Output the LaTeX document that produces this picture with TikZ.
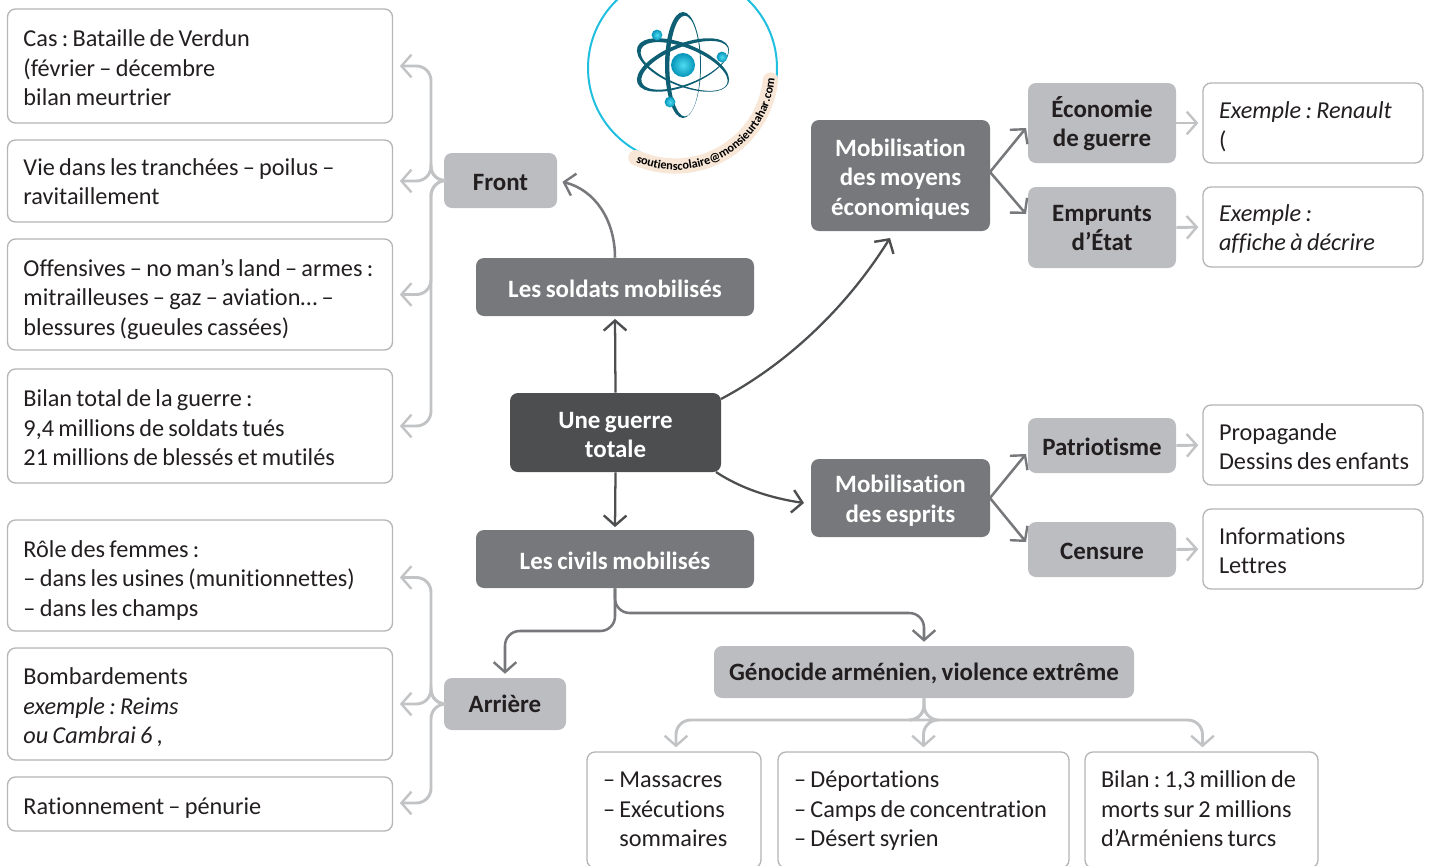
\documentclass[tikz,border=0pt]{standalone}
\usepackage{fontspec}
\setmainfont{Carlito}[RawFeature={-liga}]
\usetikzlibrary{arrows.meta,calc,decorations.text}
\definecolor{inkc}{HTML}{231F20}
\definecolor{darkc}{HTML}{4D4E50}
\definecolor{midc}{HTML}{77787B}
\definecolor{lightc}{HTML}{BCBDC0}
\definecolor{arrowl}{HTML}{C2C3C5}
\definecolor{borderc}{HTML}{B4B5B7}
\definecolor{cyanc}{HTML}{20BFE0}
\definecolor{peachc}{HTML}{F8E6D6}
\definecolor{tealc}{HTML}{0E5F73}
\definecolor{ballin}{HTML}{4FDCF2}
\definecolor{ballout}{HTML}{0594B8}
\newcommand{\topstrut}{\rule{0pt}{15.5pt}}
\newcommand{\lowstrut}{\rule[-4.5pt]{0pt}{4.5pt}}
\frenchspacing
\tikzset{
  x=0.75pt,y=-0.75pt,
  textbox/.style n args={2}{draw=borderc,line width=1pt,fill=white,rounded corners=6pt,
    text=inkc,align=left,inner xsep=12pt,inner ysep=0pt,anchor=center,
    text width=\dimexpr(#1pt-32pt)*3/4\relax,minimum height=#2*0.75pt,
    execute at begin node={\hyphenpenalty=10000\spaceskip=3.2pt\topstrut},
    font=\fontsize{18.2}{22.1}\selectfont},
  solid box/.style n args={2}{rounded corners=6pt,inner sep=0pt,align=center,anchor=center,
    text width=\dimexpr #1pt*3/4\relax,minimum height=#2*0.75pt,
    execute at begin node={\spaceskip=3.4pt\topstrut},
    font=\fontsize{18.7}{22.1}\selectfont\bfseries},
  hub/.style n args={2}{solid box={#1}{#2},fill=darkc,text=white},
  mainb/.style n args={2}{solid box={#1}{#2},fill=midc,text=white},
  subb/.style n args={2}{solid box={#1}{#2},fill=lightc,text=inkc},
  tip/.style={-{Straight Barb[length=7.5pt,width=17pt,line width=1.8pt]}},
  darkline/.style={tip,draw=darkc,line width=1.7pt},
  midline/.style={tip,draw=midc,line width=1.9pt},
  lightline/.style={tip,draw=arrowl,line width=2.2pt},
  cyanball/.style={inner color=ballin,outer color=ballout},
}
\newcommand{\orbit}[4]{%
  \begin{scope}[rotate around={#1:(683,65)}]
    \fill[tealc,even odd rule] (683,65) ellipse [x radius=#2,y radius=#3]
      (683+#4,65+0.6*#4) ellipse [x radius=#2-2.6,y radius=#3-2.6];
  \end{scope}}
\begin{document}
\begin{tikzpicture}
\useasboundingbox (0,0) rectangle (1432,865);
\clip (0,0) rectangle (1432,865);

% emblem
\draw[cyanc,line width=1.5pt] (682.5,68) circle [radius=94.5];
\draw[peachc,line width=11.5pt,line cap=round] (675,70) ++(114:96) arc (114:6:96);
\path[decorate,decoration={text along path,text align=center,
   text={|\fontsize{9.2}{10}\selectfont\bfseries|soutienscolaire@monsieurtahar.com}}]
   (675,70) ++(118:100) arc (118:0:100);
\orbit{0}{18}{53}{1.8}
\orbit{22}{49}{21}{1.6}
\orbit{-22}{49}{21}{1.6}
\shade[cyanball] (683,65) circle [radius=12];
\foreach \bx/\by in {657/35,722/57,670/102}
  \shade[cyanball] (\bx,\by) circle [radius=5.4];

% left column
\node[textbox={385}{114}] (c1) at (200,66) {Cas : Bataille de Verdun\\(février – décembre\\bilan meurtrier};
\node[textbox={385}{82}] (c2) at (200,181) {Vie dans les tranchées – poilus –\\ravitaillement\rule[-2.2pt]{0pt}{2.2pt}};
\node[textbox={385}{111}] (c3) at (200,294.5) {\rule{0pt}{20pt}\mbox{Offensives – no man’s land – armes :}\\mitrailleuses – gaz – aviation… –\\blessures (gueules cassées)};
\node[textbox={385}{114}] (c4) at (200,426) {Bilan total de la guerre :\\9,4 millions de soldats tués\\21 millions de blessés et mutilés};
\node[textbox={385}{111}] (d1) at (200,575.5) {\rule{0pt}{19.5pt}Rôle des femmes :\\– dans les usines (munitionnettes)\\– dans les champs};
\node[textbox={385}{112}] (d2) at (200,704) {\rule{0pt}{18pt}Bombardements\\\textit{exemple : Reims}\\\textit{ou Cambrai 6} ,};
\node[textbox={385}{54}] (d3) at (200,804) {\rule{0pt}{18pt}Rationnement – pénurie};

% centre
\node[hub={211}{79}] (guerre) at (615.5,432.5) {Une guerre\\totale};
\node[mainb={278}{58}] (soldats) at (615,287) {Les soldats mobilisés};
\node[mainb={278}{58}] (civils) at (615,559) {Les civils mobilisés};
\node[subb={113}{55}] (front) at (500.5,180.5) {Front};
\node[subb={122}{52}] (arriere) at (505,704) {\raisebox{1.5pt}{Arrière}};

% right
\node[mainb={179}{111}] (moyens) at (900.5,175.5) {\rule{0pt}{18.5pt}Mobilisation\\des moyens\\économiques};
\node[mainb={179}{78}] (esprits) at (900.5,498) {\rule{0pt}{17pt}Mobilisation\\des esprits};
\node[subb={148}{80}] (eco) at (1102,123) {\rule{0pt}{17pt}Économie\\de guerre};
\node[subb={148}{81}] (emprunts) at (1102,227.5) {Emprunts\\d’État\rule[-3pt]{0pt}{3pt}};
\node[subb={148}{55}] (patrio) at (1102,445.5) {Patriotisme};
\node[subb={148}{55}] (censure) at (1102,549.5) {Censure};
\node[textbox={220}{80}] (e1) at (1313,123) {\rule{0pt}{18pt}\textit{Exemple : Renault}\\(};
\node[textbox={220}{80}] (e2) at (1313,227) {\textit{Exemple :}\\\textit{affiche à décrire}};
\node[textbox={220}{80}] (e3) at (1313,445) {Propagande\\\mbox{Dessins des enfants}};
\node[textbox={220}{80}] (e4) at (1313,549) {Informations\\Lettres};

% genocide
\node[subb={420}{52}] (geno) at (924,672) {Génocide arménien, violence extrême};
\node[textbox={174}{116}] (g1) at (674,810) {– Massacres\\– Exécutions\\\hphantom{– }sommaires\lowstrut};
\node[textbox={291}{116}] (g2) at (923.5,810) {– Déportations\\– Camps de concentration\\– Désert syrien\lowstrut};
\node[textbox={233}{116}] (g3) at (1201.5,810) {Bilan : 1,3 million de\\morts sur 2 millions\\d’Arméniens turcs\lowstrut};

% helper coordinates
\coordinate (busf) at (431,181);
\coordinate (busa) at (431,704);
\coordinate (gtop) at (924,720);
\coordinate (mtip) at (890,238);
\coordinate (etip) at (804,503);
\coordinate (gstart) at (721,399);
\coordinate (hstart) at (716,472);
\coordinate (ctop) at (615,613);
\coordinate (cbot) at (615,631);

% dark connectors
\draw[darkline,shorten >=2pt] (guerre.north) -- (soldats.south);
\draw[darkline,shorten >=2pt] (guerre.south) -- (civils.north);
\draw[darkline] (gstart) .. controls (785,365) and (845,310) .. (mtip);
\draw[darkline] (hstart) .. controls (740,488) and (770,498) .. (etip);
\draw[midline,shorten >=4pt] (soldats.north) .. controls (615,220) and (595,190) .. (front.east);
\draw[midline,rounded corners=11pt,shorten >=3pt] (civils.south) -- (ctop) -- (ctop -| geno.north) -- (geno.north);
\draw[midline,rounded corners=11pt,shorten >=3pt] (civils.south) -- (cbot) -- (cbot -| arriere.north) -- (arriere.north);

% mid connectors
\coordinate (m1) at (1026,128);
\coordinate (m2) at (1026,214);
\coordinate (s1) at (1026,454);
\coordinate (s2) at (1026,542);
\coordinate (mo) at (990,172);
\coordinate (so) at (990,498);
\draw[midline] (mo) -- (m1);
\draw[midline] (mo) -- (m2);
\draw[midline] (so) -- (s1);
\draw[midline] (so) -- (s2);

% light connectors
\foreach \a/\b in {eco/e1,emprunts/e2,patrio/e3,censure/e4}
  \draw[lightline,shorten >=3pt] (\a.east) -- (\b.west);
\foreach \t in {c1,c2,c3,c4}
  \draw[lightline,rounded corners=11pt,shorten >=5pt] (front.west) -- (busf) -- (busf |- \t.east) -- (\t.east);
\foreach \t/\dy in {d1/2,d2/0,d3/-1}
  \draw[lightline,rounded corners=11pt,shorten >=5pt] (arriere.west) -- (busa) -- ($(busa |- \t.east)+(0,\dy)$) -- ($(\t.east)+(0,\dy)$);
\foreach \t/\dx in {g1/2,g2/0,g3/1}
  \draw[lightline,rounded corners=11pt,shorten >=3pt] (geno.south) -- (gtop) -- ($(gtop -| \t.north)+(\dx,0)$) -- ($(\t.north)+(\dx,0)$);
\end{tikzpicture}
\end{document}
